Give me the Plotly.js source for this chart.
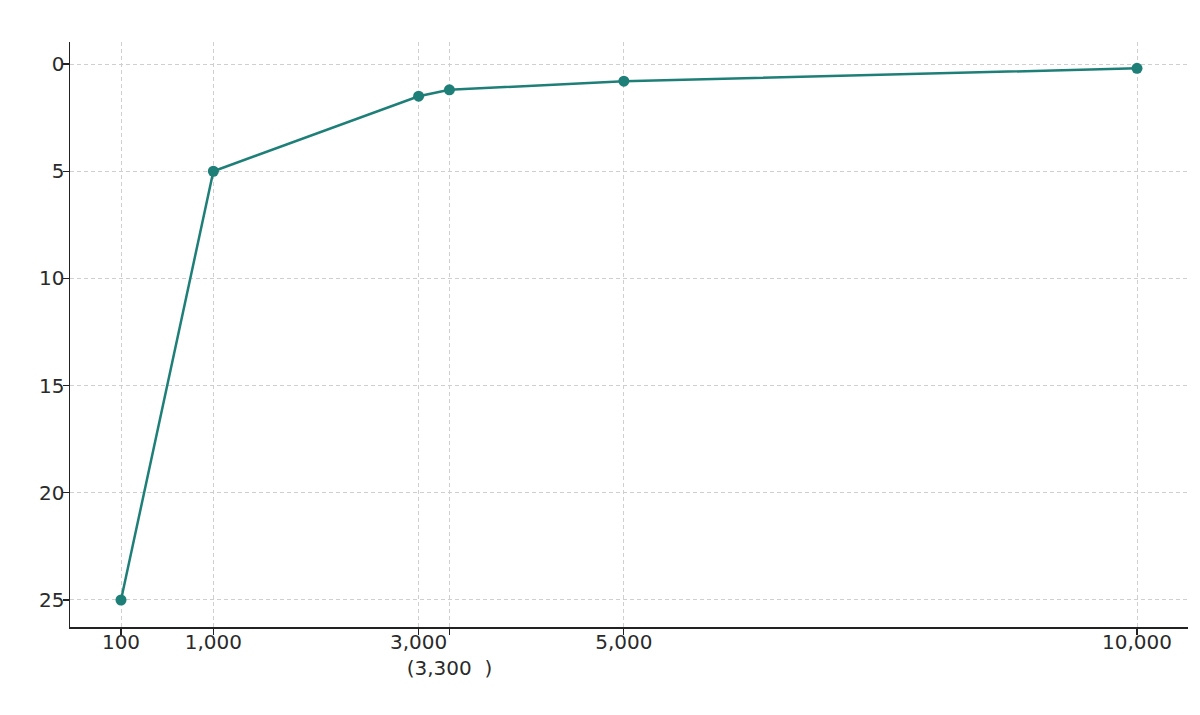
<!DOCTYPE html>
<html>
<head>
<meta charset="utf-8">
<script src="https://cdn.plot.ly/plotly-3.0.1.min.js"></script>
<style>html,body{margin:0;padding:0;background:#fff;}#chart{width:1200px;height:715px;}</style>
</head>
<body>
<div id="chart"></div>
<script>
const xValues = [100, 1000, 3000, 3300, 5000, 10000];
const yValues = [25, 5, 1.5, 1.2, 0.8, 0.2];
const xTickVals = [100, 1000, 3000, 3300, 5000, 10000];
const xTickText = ["100", "1,000", "3,000", "<br>(3,300  )", "5,000", "10,000"];
const yTickVals = [0, 5, 10, 15, 20, 25];
const yTickText = ["0", "5", "10", "15", "20", "25"];

const trace = {
  x: xValues,
  y: yValues,
  type: "scatter",
  mode: "lines+markers",
  line: {color: "#1e7f78", width: 2.5},
  marker: {color: "#1e7f78", size: 11},
  hoverinfo: "skip"
};

const axisCommon = {
  showgrid: true,
  gridcolor: "#cfcfcf",
  griddash: "4px,3px",
  gridwidth: 1,
  zeroline: false,
  showline: true,
  linecolor: "#222",
  linewidth: 1.5,
  ticks: "outside",
  ticklen: 6,
  tickwidth: 1.2,
  tickcolor: "#222",
  tickangle: 0,
  tickfont: {family: "DejaVu Sans", size: 20, color: "#2a2a2a"}
};

const layout = {
  width: 1200,
  height: 715,
  margin: {l: 70, r: 12, t: 42, b: 88},
  paper_bgcolor: "#ffffff",
  plot_bgcolor: "#ffffff",
  showlegend: false,
  font: {family: "DejaVu Sans", size: 20, color: "#2a2a2a"},
  xaxis: Object.assign({}, axisCommon, {
    range: [-397, 10497],
    tickvals: xTickVals,
    ticktext: xTickText,
    ticklabelstandoff: -10
  }),
  yaxis: Object.assign({}, axisCommon, {
    range: [26.26, -1.03],
    tickvals: yTickVals,
    ticktext: yTickText,
    ticklabelstandoff: -6
  })
};

Plotly.newPlot("chart", [trace], layout, {displayModeBar: false, staticPlot: true});
</script>
</body>
</html>
